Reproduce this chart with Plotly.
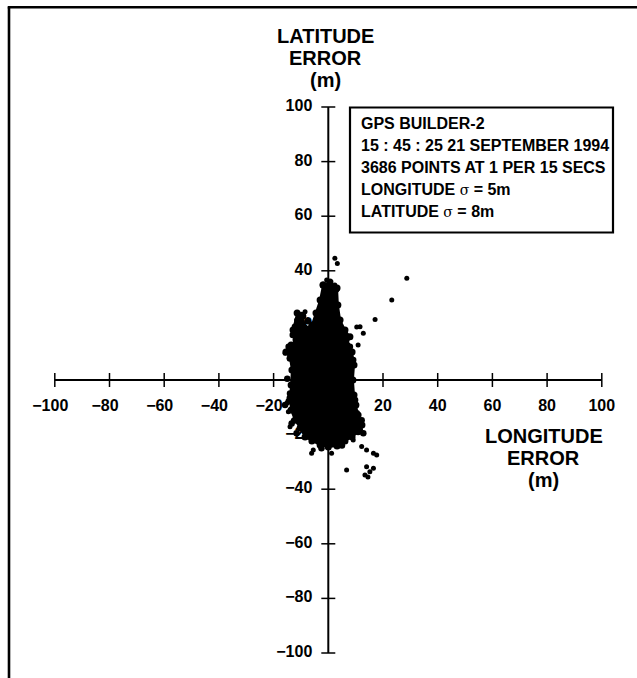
import plotly.graph_objects as go

# ---- data -----------------------------------------------------------------
# tick values shared by both axes (metres)
tick_values = [-100, -80, -60, -40, -20, 20, 40, 60, 80, 100]
tick_labels = ["\u2212100", "\u221280", "\u221260", "\u221240", "\u221220",
               "20", "40", "60", "80", "100"]

# dense core of the position-error cloud, traced as an outline
core_lon = [-1.9, 0.6, 3.2, 3.5, 4.3, 6.1, 7.9, 6.8, 8.7, 9.4, 9.0, 9.4, 10.1,
            10.9, 12.3, 10.9, 8.7, 6.1, 3.2, 0.0, -3.0, -6.0, -8.5, -10.3,
            -12.2, -13.6, -14.0, -13.6, -13.3, -14.0, -15.5, -13.6, -11.8,
            -12.9, -11.4, -9.3, -8.5, -6.0, -4.5, -3.0]
core_lat = [34.8, 35.9, 33.7, 27.5, 22.0, 18.3, 15.8, 12.8, 10.3, 5.5, 0.0,
            -5.5, -9.2, -12.8, -16.5, -19.0, -20.9, -22.3, -24.2, -24.5,
            -23.8, -22.3, -20.9, -17.6, -14.7, -11.0, -6.6, -1.8, 3.7, 8.0,
            10.3, 12.8, 14.7, 18.3, 24.5, 23.4, 19.0, 20.1, 24.5, 29.3]

# fixes clustered along the rim of the core
rim_lon = [-12.2, -9.7, -14.5, -14.0, -14.5, -15.8, -13.4, -11.6, 10.4, 12.2,
           12.8, 9.8, 9.1, 7.9, 4.3, 3.1, -1.8, -10.5, -7.5, 11.5, 5.0, -2.5,
           -15.0, -13.0]
rim_lat = [19.5, 23.8, 12.2, -4.9, -7.9, -9.2, -15.9, -19.5, -12.2, -14.7,
           -19.5, -7.3, 7.3, 12.2, 15.9, 23.2, 28.1, 21.0, 21.5, -18.0, -24.0,
           -25.0, 0.5, 16.5]

# isolated fixes lying outside the core
outlier_lon = [28.7, 23.2, 17.1, 11.6, 10.4, 12.8, 10.9, 2.4, 3.3, -0.6, 2.4,
               3.1, 0.6, -1.8, -8.5, -11.6, -15.8, -15.2, -14.6, -14.0, -12.8,
               -5.5, -6.1, 1.2, 6.7, 14.0, 16.5, 17.7, 14.0, 15.2, 16.5, 13.4,
               14.5, 7.3, 9.1, 12.2, -3.7, 0.6]
outlier_lat = [37.3, 29.3, 22.2, 19.5, 19.4, 17.1, 12.8, 44.6, 42.7, 36.6,
               34.8, 33.0, 29.3, 25.6, 25.0, 22.0, 9.8, -8.5, -11.6, -17.1,
               -14.7, -25.6, -26.8, -26.8, -33.0, -25.6, -26.8, -27.5, -31.8,
               -33.6, -32.3, -34.8, -35.5, -20.8, -22.0, -24.4, -21.4, -22.6]

SIGMA = ("<span style='font-family:DejaVu Serif;font-weight:normal;"
         "font-size:14px'>\u03c3</span>")
info_lines = [
    "GPS BUILDER-2",
    "15 : 45 : 25 21 SEPTEMBER 1994",
    "3686 POINTS AT 1 PER 15 SECS",
    "LONGITUDE " + SIGMA + " = 5m",
    "LATITUDE " + SIGMA + " = 8m",
]

# ---- canvas geometry ----------------------------------------------------------
W, H = 637, 678
X0_PX, Y0_PX = 328.3, 380.0      # pixel position of the origin
SX, SY = 2.735, 2.73             # pixels per metre
x_range = [-X0_PX / SX, (W - X0_PX) / SX]
y_range = [(Y0_PX - H) / SY, Y0_PX / SY]

FONT = "Liberation Sans, Arial, Helvetica, sans-serif"


def px_x(p):
    return p / W


def px_y(p):
    return 1 - p / H


fig = go.Figure()

# tick labels sit underneath the cloud
tick_len = 7.0
lab_x = [t - (4.5 / SX if t < 0 else 0) for t in tick_values]
fig.add_trace(go.Scatter(
    x=lab_x, y=[-27.0 / SY] * len(tick_values), mode="text",
    text=tick_labels, textposition="middle center",
    textfont=dict(family=FONT, size=16, color="black", weight="bold"),
    hoverinfo="skip", showlegend=False))
fig.add_trace(go.Scatter(
    x=[-16.0 / SX] * len(tick_values), y=tick_values, mode="text",
    text=tick_labels, textposition="middle left",
    textfont=dict(family=FONT, size=16, color="black", weight="bold"),
    hoverinfo="skip", showlegend=False))

# error cloud
fig.add_trace(go.Scatter(
    x=core_lon + [core_lon[0]], y=core_lat + [core_lat[0]],
    mode="lines+markers", fill="toself", fillcolor="black",
    line=dict(color="black", width=2),
    marker=dict(color="black", size=7),
    hoverinfo="skip", showlegend=False))
fig.add_trace(go.Scatter(
    x=rim_lon, y=rim_lat, mode="markers",
    marker=dict(color="black", size=6.5),
    hoverinfo="skip", showlegend=False))
fig.add_trace(go.Scatter(
    x=outlier_lon, y=outlier_lat, mode="markers",
    marker=dict(color="black", size=5),
    hoverinfo="skip", showlegend=False))

shapes = []
# axes crossing at the origin
shapes.append(dict(type="line", x0=-100, x1=100, y0=0, y1=0,
                   line=dict(color="black", width=2)))
shapes.append(dict(type="line", x0=0, x1=0, y0=-100, y1=100,
                   line=dict(color="black", width=2)))
for t in tick_values:
    shapes.append(dict(type="line", x0=t, x1=t,
                       y0=-tick_len / SY, y1=tick_len / SY,
                       line=dict(color="black", width=1.5)))
    shapes.append(dict(type="line", x0=-tick_len / SX, x1=tick_len / SX,
                       y0=t, y1=t,
                       line=dict(color="black", width=1.5)))
for s in shapes:
    s.update(xref="x", yref="y")

# outer frame (top and left edges)
shapes.append(dict(type="line", xref="paper", yref="paper",
                   x0=px_x(9), x1=px_x(9), y0=0, y1=px_y(7.3),
                   line=dict(color="black", width=2.6)))
shapes.append(dict(type="line", xref="paper", yref="paper",
                   x0=px_x(7.7), x1=1, y0=px_y(7.3), y1=px_y(7.3),
                   line=dict(color="black", width=2.6)))
# information box
shapes.append(dict(type="rect", xref="paper", yref="paper",
                   x0=px_x(350), x1=px_x(613), y0=px_y(107.5), y1=px_y(232.5),
                   line=dict(color="black", width=2.2), fillcolor="white"))

annotations = []
title_font = dict(family=FONT, size=20, color="black", weight="bold")
for txt, py in zip(["LATITUDE", "ERROR", "(m)"], [36.5, 58.5, 80.5]):
    annotations.append(dict(text=txt, x=px_x(325.5), y=px_y(py),
                            xref="paper", yref="paper", xanchor="center",
                            yanchor="middle", showarrow=False, font=title_font))
for txt, py in zip(["LONGITUDE", "ERROR", "(m)"], [436, 458, 480]):
    annotations.append(dict(text=txt, x=px_x(543.5), y=px_y(py),
                            xref="paper", yref="paper", xanchor="center",
                            yanchor="middle", showarrow=False, font=title_font))
info_font = dict(family=FONT, size=16, color="black", weight="bold")
for i, txt in enumerate(info_lines):
    annotations.append(dict(text=txt, x=px_x(359), y=px_y(123.5 + 22.1 * i),
                            xref="paper", yref="paper", xanchor="left",
                            yanchor="middle", showarrow=False, font=info_font))

fig.update_layout(
    width=W, height=H, autosize=False,
    margin=dict(l=0, r=0, t=0, b=0, pad=0),
    paper_bgcolor="white", plot_bgcolor="white",
    xaxis=dict(range=x_range, visible=False, fixedrange=True),
    yaxis=dict(range=y_range, visible=False, fixedrange=True),
    shapes=shapes, annotations=annotations,
    showlegend=False,
)

fig.write_html("out.html", config={"displayModeBar": False})
